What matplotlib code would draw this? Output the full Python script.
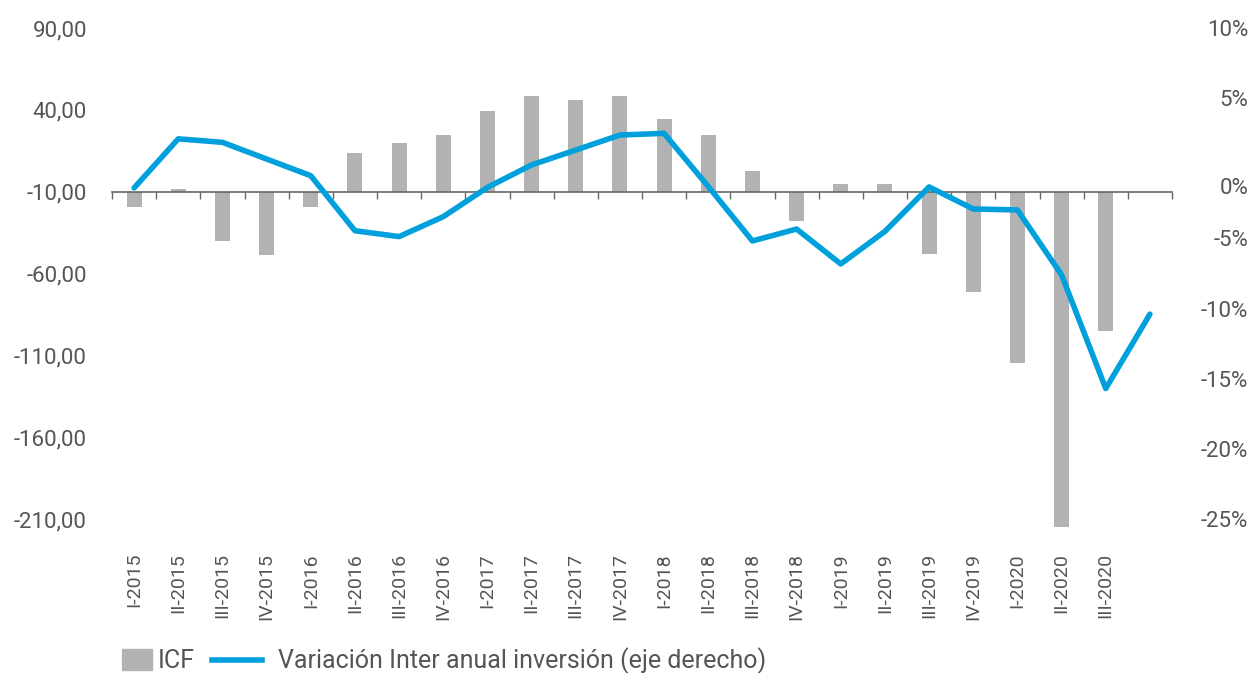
import numpy as np
import matplotlib
matplotlib.use("Agg")
import matplotlib.pyplot as plt
import matplotlib.patches as mpatches
import matplotlib.lines as mlines
from matplotlib.transforms import blended_transform_factory

plt.rcParams['font.family'] = ['Roboto', 'DejaVu Sans']

# quarters (the last one only has the line value)
quarters = ["I-2015", "II-2015", "III-2015", "IV-2015",
            "I-2016", "II-2016", "III-2016", "IV-2016",
            "I-2017", "II-2017", "III-2017", "IV-2017",
            "I-2018", "II-2018", "III-2018", "IV-2018",
            "I-2019", "II-2019", "III-2019", "IV-2019",
            "I-2020", "II-2020", "III-2020", "IV-2020"]
# ICF (left axis)
icf = [-19.2, -8.2, -40.3, -48.5,
       -19.2, 13.8, 19.9, 24.8,
       39.5, 48.6, 46.2, 48.6,
       34.2, 24.8, 2.8, -27.7,
       -5.1, -5.1, -48.3, -71.5,
       -114.9, -215.0, -95.1]
# variacion inter anual inversion, % (right axis)
var_ia = [-1.4, 2.1, 1.85, 0.66,
          -0.53, -4.45, -4.87, -3.45,
          -1.36, 0.24, 1.3, 2.37,
          2.49, -1.3, -5.18, -4.33,
          -6.82, -4.5, -1.33, -2.9,
          -2.97, -7.6, -15.7, -10.4]
left_ticks = [90, 40, -10, -60, -110, -160, -210]
right_ticks = [10, 5, -5, -10, -15, -20, -25]
axis_cross = -10

grey_txt = '#555555'
bar_col = '#b2b2b2'
line_col = '#00a0dc'

fig = plt.figure(figsize=(12.52, 6.73), dpi=100)
ax = fig.add_axes([112/1252, 1-519/673, (1172-112)/1252, (519-28)/673])

x = np.arange(len(icf))
ax.bar(x, np.array(icf) - axis_cross, bottom=axis_cross, width=0.34, color=bar_col,
       zorder=2, clip_on=False)

ax.set_xlim(-0.5, len(quarters) - 0.5)
ax.set_ylim(-210, 90)
ax.set_yticks(left_ticks)
ax.set_yticklabels([f"{v:.2f}".replace('.', ',') for v in left_ticks])
ax.tick_params(axis='y', length=0, pad=18, labelsize=16, labelcolor=grey_txt)

for s in ['top', 'right', 'left']:
    ax.spines[s].set_visible(False)
ax.spines['bottom'].set_position(('data', axis_cross))
ax.spines['bottom'].set_color('#666666')
ax.spines['bottom'].set_linewidth(1.2)
ax.set_xticks(np.arange(-0.5, len(quarters), 1))
ax.set_xticklabels([])
ax.tick_params(axis='x', length=5, width=1, color='#666666', direction='out')

# category labels sit at the bottom of the plot area
trans = blended_transform_factory(ax.transData, ax.transAxes)
for i, lab in enumerate(quarters[:len(icf)]):
    ax.text(i, -0.069, lab, transform=trans, rotation=90, ha='center', va='top',
            fontsize=14, color=grey_txt)

ax2 = ax.twinx()
ax2.plot(np.arange(len(var_ia)), var_ia, color=line_col, lw=4,
         solid_joinstyle='round', solid_capstyle='round', zorder=3)
ax2.set_ylim(-25, 10)
ax2.set_yticks(right_ticks)
ax2.set_yticklabels([f"{v}%" for v in right_ticks])
ax2.tick_params(axis='y', length=0, pad=55, labelsize=16, labelcolor=grey_txt)
for lbl in ax2.get_yticklabels():
    lbl.set_horizontalalignment('right')
for s in ax2.spines.values():
    s.set_visible(False)
# the 0% label sits a bit lower in the original, next to the axis line
ax2.annotate("0%", xy=(1, 0), xycoords=('axes fraction', 'data'),
             xytext=(55, -14.5), textcoords='offset points',
             ha='right', va='center', fontsize=16, color=grey_txt)

# legend, two pieces
fs = 18
leg_y = 1 - 661/673
icf_patch = mpatches.Patch(color=bar_col, label='ICF')
leg1 = fig.legend(handles=[icf_patch], loc='center left', bbox_to_anchor=(122/1252, leg_y),
                  frameon=False, fontsize=fs, handlelength=1.2, handleheight=0.9,
                  handletextpad=0.25, borderpad=0, borderaxespad=0, labelcolor=grey_txt)
var_line = mlines.Line2D([], [], color=line_col, lw=4,
                         label='Variación Inter anual inversión (eje derecho)')
leg2 = fig.legend(handles=[var_line], loc='center left', bbox_to_anchor=(212/1252, leg_y),
                  frameon=False, fontsize=fs, handlelength=2.0,
                  handletextpad=0.62, borderpad=0, borderaxespad=0, labelcolor=grey_txt)

fig.savefig('out.png', dpi=100)
